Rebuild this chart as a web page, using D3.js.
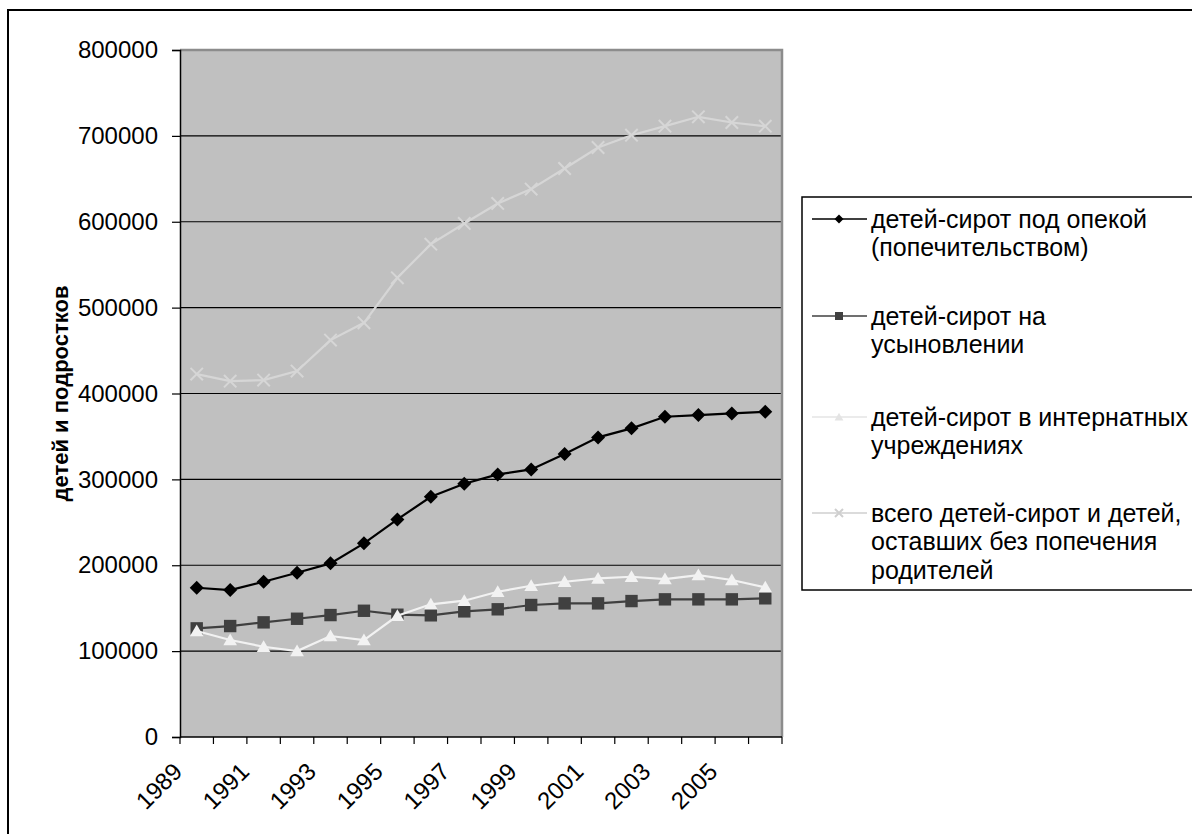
<!DOCTYPE html>
<html>
<head>
<meta charset="utf-8">
<script src="https://cdn.jsdelivr.net/npm/d3@7"></script>
<style>
  html, body { margin: 0; padding: 0; background: #fff; }
  svg { display: block; }
  text { font-family: "Liberation Sans", Arial, sans-serif; }
</style>
</head>
<body>
<svg id="chart" width="1192" height="834"></svg>
<script>
// Years on the category axis
const years = [1989, 1990, 1991, 1992, 1993, 1994, 1995, 1996, 1997,
               1998, 1999, 2000, 2001, 2002, 2003, 2004, 2005, 2006];

// Orphans under guardianship (custody)
const guardianship = [173800, 171100, 180800, 191300, 202200, 225500, 253400, 279700, 294900,
                      305800, 311600, 329500, 348900, 359400, 372900, 374900, 376800, 378700];
// Orphans adopted
const adopted = [126500, 129200, 133500, 137700, 142000, 147000, 142400, 141700, 146300,
                 148700, 153700, 155600, 155600, 158300, 160300, 160300, 160300, 161500];
// Orphans in residential institutions
const institutions = [123400, 112900, 105100, 100100, 117600, 112900, 141200, 154500, 158700,
                      169200, 176100, 180800, 184700, 186600, 183900, 188600, 182800, 174300];
// All orphans and children left without parental care
const totalOrphans = [422600, 414400, 415600, 426100, 462200, 482300, 534700, 573900, 598000,
                      621300, 638000, 662000, 686500, 700800, 711300, 722200, 715600, 711300];

const yTicks = [0, 100000, 200000, 300000, 400000, 500000, 600000, 700000, 800000];
const xTickLabels = [1989, 1991, 1993, 1995, 1997, 1999, 2001, 2003, 2005];

const seriesNames = [
  ["детей-сирот под опекой", "(попечительством)"],
  ["детей-сирот на", "усыновлении"],
  ["детей-сирот в интернатных", "учреждениях"],
  ["всего детей-сирот и детей,", "оставших без попечения", "родителей"]
];

const series = [
  { name: seriesNames[0], values: guardianship, stroke: "#000000", fill: "#000000", legendFill: "#000000", marker: "diamond" },
  { name: seriesNames[1], values: adopted,      stroke: "#404040", fill: "#404040", legendFill: "#404040", marker: "square" },
  { name: seriesNames[2], values: institutions, stroke: "#f2f2f2", fill: "#f2f2f2", legendFill: "#e4e4e4", marker: "triangle" },
  { name: seriesNames[3], values: totalOrphans, stroke: "#d6d6d6", fill: "#d6d6d6", legendFill: "#cfcfcf", marker: "cross" }
];

const svg = d3.select("#chart");
const plot = { left: 180, right: 782, top: 50, bottom: 737 };

// Outer chart frame (runs past the right and bottom edges)
svg.append("rect")
  .attr("x", 8).attr("y", 10).attr("width", 1260).attr("height", 900)
  .attr("fill", "#fff").attr("stroke", "#000").attr("stroke-width", 2);

const x = d3.scaleBand().domain(years).range([plot.left, plot.right]).paddingInner(0).paddingOuter(0);
const y = d3.scaleLinear().domain([0, 800000]).range([plot.bottom, plot.top]);

// Plot area background
svg.append("rect")
  .attr("x", plot.left).attr("y", plot.top)
  .attr("width", plot.right - plot.left).attr("height", plot.bottom - plot.top)
  .attr("fill", "#c0c0c0");

// Horizontal gridlines
svg.append("g").selectAll("line")
  .data(yTicks.filter(d => d > 0 && d < 800000))
  .join("line")
  .attr("x1", plot.left).attr("x2", plot.right)
  .attr("y1", d => y(d)).attr("y2", d => y(d))
  .attr("stroke", "#000").attr("stroke-width", 1.2);

// Plot border (top and right)
svg.append("path")
  .attr("d", `M${plot.left},${plot.top}H${plot.right}V${plot.bottom}`)
  .attr("fill", "none").attr("stroke", "#8c8c8c").attr("stroke-width", 2.5);

// Y axis
const yAxis = svg.append("g")
  .attr("transform", `translate(${plot.left},0)`)
  .call(d3.axisLeft(y).tickValues(yTicks).tickSize(8).tickPadding(14).tickFormat(d3.format("d")));
yAxis.select(".domain").attr("stroke", "#000").attr("stroke-width", 1.5);
yAxis.selectAll(".tick line").attr("stroke", "#000").attr("stroke-width", 1.2);
yAxis.selectAll(".tick text")
  .attr("font-size", 24).attr("fill", "#000")
  .attr("font-family", "'Liberation Sans', Arial, sans-serif");

// X axis: ticks on category boundaries
const boundaries = years.map(d => x(d)).concat([plot.right]);
svg.append("line")
  .attr("x1", plot.left).attr("x2", plot.right)
  .attr("y1", plot.bottom).attr("y2", plot.bottom)
  .attr("stroke", "#000").attr("stroke-width", 1.5);
svg.append("g").selectAll("line")
  .data(boundaries)
  .join("line")
  .attr("x1", d => d).attr("x2", d => d)
  .attr("y1", plot.bottom).attr("y2", plot.bottom + 7)
  .attr("stroke", "#000").attr("stroke-width", 1.2);

// Rotated year labels
svg.append("g").selectAll("text")
  .data(xTickLabels)
  .join("text")
  .attr("transform", d => `translate(${x(d) + x.bandwidth() / 2 - 13},${plot.bottom + 36}) rotate(-45)`)
  .attr("text-anchor", "end")
  .attr("font-size", 24)
  .attr("fill", "#000")
  .text(d => d);

// Y axis title
svg.append("text")
  .attr("transform", `translate(68,${(plot.top + plot.bottom) / 2}) rotate(-90)`)
  .attr("text-anchor", "middle")
  .attr("font-size", 22)
  .attr("font-weight", "bold")
  .text("детей и подростков");

// Marker shapes
function drawMarker(g, type, size, color) {
  const s = size;
  if (type === "diamond") {
    g.append("path").attr("d", `M0,${-s}L${s},0L0,${s}L${-s},0Z`).attr("fill", color);
  } else if (type === "square") {
    g.append("rect").attr("x", -s).attr("y", -s).attr("width", 2 * s).attr("height", 2 * s).attr("fill", color);
  } else if (type === "triangle") {
    g.append("path").attr("d", `M0,${-s * 1.05}L${s * 1.1},${s * 0.85}L${-s * 1.1},${s * 0.85}Z`).attr("fill", color);
  } else if (type === "cross") {
    g.append("path").attr("d", `M${-s},${-s}L${s},${s}M${-s},${s}L${s},${-s}`)
      .attr("stroke", color).attr("stroke-width", 2).attr("fill", "none");
  }
}

const cx = d => x(d) + x.bandwidth() / 2;
const line = d3.line().x((v, i) => cx(years[i])).y(v => y(v));

// Draw series back to front: total first, then adopted, institutions, guardianship
[3, 1, 2, 0].forEach(k => {
  const s = series[k];
  const g = svg.append("g");
  g.append("path")
    .attr("d", line(s.values))
    .attr("fill", "none")
    .attr("stroke", s.stroke)
    .attr("stroke-width", 2.2);
  s.values.forEach((v, i) => {
    const m = g.append("g").attr("transform", `translate(${cx(years[i])},${y(v)})`);
    drawMarker(m, s.marker, s.marker === "diamond" ? 7 : 6.2, s.fill);
  });
});

// Legend
const legend = { left: 802, top: 197, bottom: 590 };
svg.append("rect")
  .attr("x", legend.left).attr("y", legend.top)
  .attr("width", 500).attr("height", legend.bottom - legend.top)
  .attr("fill", "#fff").attr("stroke", "#000").attr("stroke-width", 1.5);

const entryY = [219, 316, 417, 513];
const lineGap = 28.5;
series.forEach((s, k) => {
  const g = svg.append("g").attr("transform", `translate(0,${entryY[k]})`);
  g.append("line").attr("x1", 812).attr("x2", 867).attr("y1", 0).attr("y2", 0)
    .attr("stroke", s.legendFill).attr("stroke-width", 1.6);
  const m = g.append("g").attr("transform", "translate(839,0)");
  drawMarker(m, s.marker, s.marker === "diamond" ? 4.5 : 4, s.legendFill);
  s.name.forEach((t, j) => {
    g.append("text")
      .attr("x", 871).attr("y", j * lineGap)
      .attr("dy", "0.35em")
      .attr("font-size", 25)
      .attr("fill", "#000")
      .text(t);
  });
});
</script>
</body>
</html>
